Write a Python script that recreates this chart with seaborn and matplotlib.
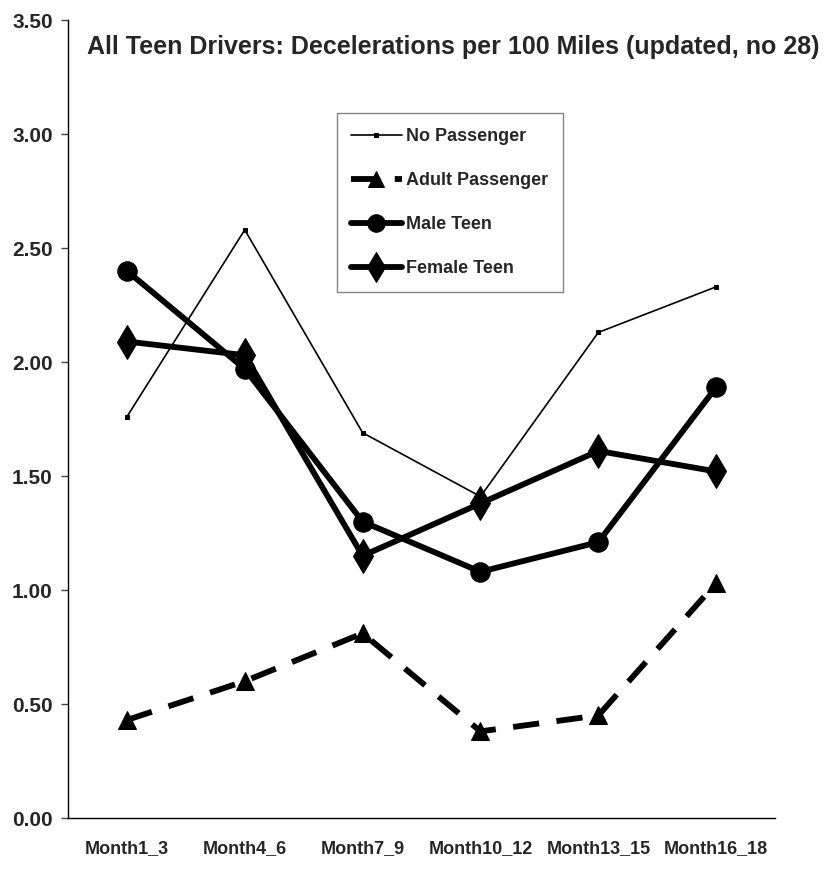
import numpy as np
import pandas as pd
import seaborn as sns
import matplotlib.pyplot as plt
from matplotlib.ticker import FixedLocator, NullFormatter

# Values
months = ["Month1_3", "Month4_6", "Month7_9", "Month10_12", "Month13_15", "Month16_18"]
no_passenger = [1.76, 2.58, 1.69, 1.41, 2.13, 2.33]
adult_passenger = [0.43, 0.60, 0.81, 0.38, 0.45, 1.03]
male_teen = [2.40, 1.97, 1.30, 1.08, 1.21, 1.89]
female_teen = [2.09, 2.03, 1.15, 1.38, 1.61, 1.52]
y_ticks = [0.0, 0.5, 1.0, 1.5, 2.0, 2.5, 3.0, 3.5]

df = pd.DataFrame({
    "pos": np.arange(len(months)),
    "No Passenger": no_passenger,
    "Adult Passenger": adult_passenger,
    "Male Teen": male_teen,
    "Female Teen": female_teen,
})

sns.set_style("white")
plt.rcParams["font.family"] = ["Liberation Sans", "DejaVu Sans"]
plt.rcParams["font.weight"] = "bold"

fig = plt.figure(figsize=(8.29, 8.73), dpi=100)
ax = fig.add_axes([0.082, 0.063, 0.853, 0.914])

sns.lineplot(data=df, x="pos", y="No Passenger", ax=ax, color="black", lw=1.2,
             marker="s", markersize=3, label="No Passenger")
sns.lineplot(data=df, x="pos", y="Adult Passenger", ax=ax, color="black", lw=4.2,
             marker="^", markersize=13, dashes=(4.5, 3), label="Adult Passenger")
sns.lineplot(data=df, x="pos", y="Male Teen", ax=ax, color="black", lw=4.2,
             marker="o", markersize=14, label="Male Teen")
sns.lineplot(data=df, x="pos", y="Female Teen", ax=ax, color="black", lw=4.2,
             marker="d", markersize=17, label="Female Teen")

# solid black markers
for line in ax.get_lines():
    line.set_markeredgecolor("black")
    line.set_markerfacecolor("black")

ax.set_xlim(-0.5, len(months) - 0.5)
ax.set_ylim(0, 3.5)
ax.set_xlabel("")
ax.set_ylabel("")

# x: tick marks between categories, labels at centres
ax.xaxis.set_major_locator(FixedLocator(np.arange(-0.5, len(months), 1.0)))
ax.xaxis.set_major_formatter(NullFormatter())
ax.set_xticks(np.arange(len(months)), minor=True)
ax.set_xticklabels(months, minor=True)
ax.tick_params(axis="x", which="major", direction="out", length=8, width=1, color="#444444")
ax.tick_params(axis="x", which="minor", length=0, pad=16, labelsize=13)

ax.set_yticks(y_ticks)
ax.set_yticklabels([f"{v:.2f}" for v in y_ticks])
ax.tick_params(axis="y", direction="out", length=5, width=1, color="#444444", labelsize=15, pad=6)
ax.yaxis.set_ticks_position("left")

for s in ["top", "right"]:
    ax.spines[s].set_visible(False)
for s in ["left", "bottom"]:
    ax.spines[s].set_color("black")
    ax.spines[s].set_linewidth(1)

leg = ax.legend(loc="upper left", bbox_to_anchor=(0.380, 0.883), borderaxespad=0,
                fontsize=13, frameon=True, fancybox=False, handlelength=2.8,
                handletextpad=0.25, labelspacing=1.5, borderpad=0.8, markerscale=0.9)
leg.get_frame().set_edgecolor("#666666")
leg.get_frame().set_linewidth(1)

fig.text(0.547, 0.946, "All Teen Drivers: Decelerations per 100 Miles (updated, no 28)",
         ha="center", va="center", fontsize=18, fontweight="bold")

fig.savefig("out.png", dpi=100)
